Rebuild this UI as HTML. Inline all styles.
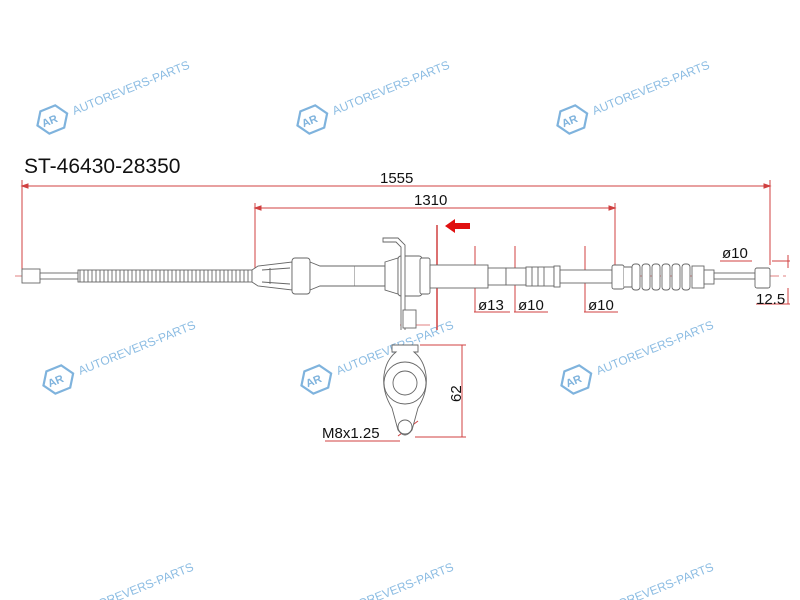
<!DOCTYPE html>
<html><head><meta charset="utf-8"><style>
html,body{margin:0;padding:0;background:#fff;width:800px;height:600px;overflow:hidden}
svg{display:block}
text{font-family:"Liberation Sans",Arial,sans-serif}
</style></head><body>
<svg width="800" height="600" viewBox="0 0 800 600" xmlns="http://www.w3.org/2000/svg">
<defs>
<g id="wm">
 <g transform="rotate(-22)">
  <polygon points="-10,-12 6,-12 14,0 6,12 -10,12 -18,0" fill="none" stroke="#7fb3dd" stroke-width="2.2" transform="translate(-2,0)"/>
  <text x="-15" y="4" font-size="11" fill="#7fb3dd" font-weight="bold">AR</text>
  <text x="18" y="4" font-size="12" fill="#8dbde3">AUTOREVERS-PARTS</text>
 </g>
</g>
</defs>
<use href="#wm" x="56" y="118"/>
<use href="#wm" x="316" y="118"/>
<use href="#wm" x="576" y="118"/>
<use href="#wm" x="62" y="378"/>
<use href="#wm" x="320" y="378"/>
<use href="#wm" x="580" y="378"/>
<use href="#wm" x="60" y="620"/>
<use href="#wm" x="320" y="620"/>
<use href="#wm" x="580" y="620"/>

<text x="24" y="173" font-size="21" fill="#111">ST-46430-28350</text>

<g stroke="#d04040" stroke-width="1" fill="#d04040">
 <line x1="22" y1="186" x2="770" y2="186"/>
 <line x1="22" y1="180" x2="22" y2="272"/>
 <line x1="770" y1="180" x2="770" y2="265"/>
 <line x1="255" y1="208" x2="615" y2="208"/>
 <line x1="255" y1="203" x2="255" y2="272"/>
 <line x1="615" y1="203" x2="615" y2="266"/>
 <line x1="437" y1="225" x2="437" y2="330" stroke-width="1.5"/>
 <line x1="15" y1="276" x2="790" y2="276" stroke-dasharray="14,4,3,4" stroke="#e08080"/>
 <polygon points="22,186 28,184 28,188"/><polygon points="770,186 764,184 764,188"/>
 <polygon points="255,208 261,206 261,210"/><polygon points="615,208 609,206 609,210"/>
 <line x1="475" y1="246" x2="475" y2="265"/><line x1="475" y1="288" x2="475" y2="312"/>
 <line x1="515" y1="246" x2="515" y2="268"/><line x1="515" y1="285" x2="515" y2="312"/>
 <line x1="585" y1="246" x2="585" y2="270"/><line x1="585" y1="283" x2="585" y2="312"/>
 <line x1="474" y1="312" x2="510" y2="312"/><line x1="514" y1="312" x2="548" y2="312"/><line x1="584" y1="312" x2="618" y2="312"/>
 <line x1="720" y1="261" x2="752" y2="261"/><line x1="772" y1="261" x2="790" y2="261"/>
 <line x1="788" y1="255" x2="788" y2="268"/><line x1="788" y1="288" x2="788" y2="304"/>
 <line x1="756" y1="304" x2="790" y2="304"/>
 <line x1="462" y1="345" x2="462" y2="437"/>
 <line x1="420" y1="345" x2="466" y2="345"/><line x1="415" y1="437" x2="466" y2="437"/>
 <line x1="325" y1="441" x2="400" y2="441"/><line x1="398" y1="436" x2="418" y2="421"/>
 <line x1="405" y1="260" x2="430" y2="260" stroke="#e08080"/>
 <line x1="400" y1="325" x2="430" y2="325" stroke="#e08080"/>
</g>
<polygon points="445,226 455,219 455,223 470,223 470,229 455,229 455,233" fill="#e01010"/>

<g font-size="15" fill="#111">
 <text x="380" y="183">1555</text>
 <text x="414" y="205">1310</text>
 <text x="478" y="310">ø13</text>
 <text x="518" y="310">ø10</text>
 <text x="588" y="310">ø10</text>
 <text x="722" y="258">ø10</text>
 <text x="756" y="304">12.5</text>
 <text x="322" y="438">M8x1.25</text>
 <text transform="translate(461,402) rotate(-90)">62</text>
</g>

<g stroke="#666" stroke-width="0.9" fill="#fff">
 <rect x="22" y="269" width="18" height="14"/>
 <rect x="40" y="273" width="38" height="6"/>
 <rect x="78" y="270" width="174" height="12"/>
 <path d="M80 270 L80 282 M84 270 L84 282 M88 270 L88 282 M92 270 L92 282 M96 270 L96 282 M100 270 L100 282 M104 270 L104 282 M108 270 L108 282 M112 270 L112 282 M116 270 L116 282 M120 270 L120 282 M124 270 L124 282 M128 270 L128 282 M132 270 L132 282 M136 270 L136 282 M140 270 L140 282 M144 270 L144 282 M148 270 L148 282 M152 270 L152 282 M156 270 L156 282 M160 270 L160 282 M164 270 L164 282 M168 270 L168 282 M172 270 L172 282 M176 270 L176 282 M180 270 L180 282 M184 270 L184 282 M188 270 L188 282 M192 270 L192 282 M196 270 L196 282 M200 270 L200 282 M204 270 L204 282 M208 270 L208 282 M212 270 L212 282 M216 270 L216 282 M220 270 L220 282 M224 270 L224 282 M228 270 L228 282 M232 270 L232 282 M236 270 L236 282 M240 270 L240 282 M244 270 L244 282 M248 270 L248 282"/>
 <path d="M252 270 L258 266 L292 262 L292 290 L258 286 L252 282 Z"/>
 <path d="M262 270 L290 268 M262 282 L290 284 M270 268 L270 284"/>
 <rect x="292" y="258" width="18" height="36" rx="3"/>
 <path d="M310 262 L320 266 L355 266 L355 286 L320 286 L310 290 Z"/>
 <path d="M355 266 L385 266 L385 286 L355 286"/>
 <path d="M385 262 L398 258 L398 294 L385 290 Z"/>
 <rect x="398" y="256" width="24" height="40" rx="3"/>
 <rect x="420" y="258" width="10" height="36" rx="2"/>
 <path d="M405 330 L405 245 L398 238 L383 238 L383 242 L396 242 L401 247 L401 330"/>
 <rect x="403" y="310" width="13" height="18"/>
 <rect x="430" y="265" width="58" height="23"/>
 <rect x="488" y="268" width="18" height="17"/>
 <rect x="506" y="268" width="20" height="17"/>
 <rect x="526" y="267" width="28" height="19"/>
 <path d="M532 267 L532 286 M538 267 L538 286 M544 267 L544 286"/>
 <rect x="554" y="266" width="6" height="21"/>
 <rect x="560" y="270" width="52" height="13"/>
 <rect x="612" y="265" width="12" height="24" rx="2"/>
 <path d="M624 267 L632 267 L632 287 L624 287"/>
 <rect x="632" y="264" width="8" height="26" rx="3"/><rect x="642" y="264" width="8" height="26" rx="3"/>
 <rect x="652" y="264" width="8" height="26" rx="3"/><rect x="662" y="264" width="8" height="26" rx="3"/>
 <rect x="672" y="264" width="8" height="26" rx="3"/><rect x="682" y="264" width="8" height="26" rx="3"/>
 <rect x="692" y="266" width="12" height="22"/>
 <rect x="704" y="270" width="10" height="14"/>
 <rect x="714" y="273" width="41" height="6"/>
 <rect x="755" y="268" width="15" height="20" rx="2"/>
 <path d="M392 345 L418 345 L418 352 L414 352 Q424 360 426 375 Q428 392 418 408 L412 430 Q405 440 398 430 L392 408 Q382 392 384 375 Q386 360 396 352 L392 352 Z"/>
 <circle cx="405" cy="383" r="21"/>
 <circle cx="405" cy="383" r="12"/>
 <circle cx="405" cy="427" r="7"/>
</g>
</svg>
</body></html>
